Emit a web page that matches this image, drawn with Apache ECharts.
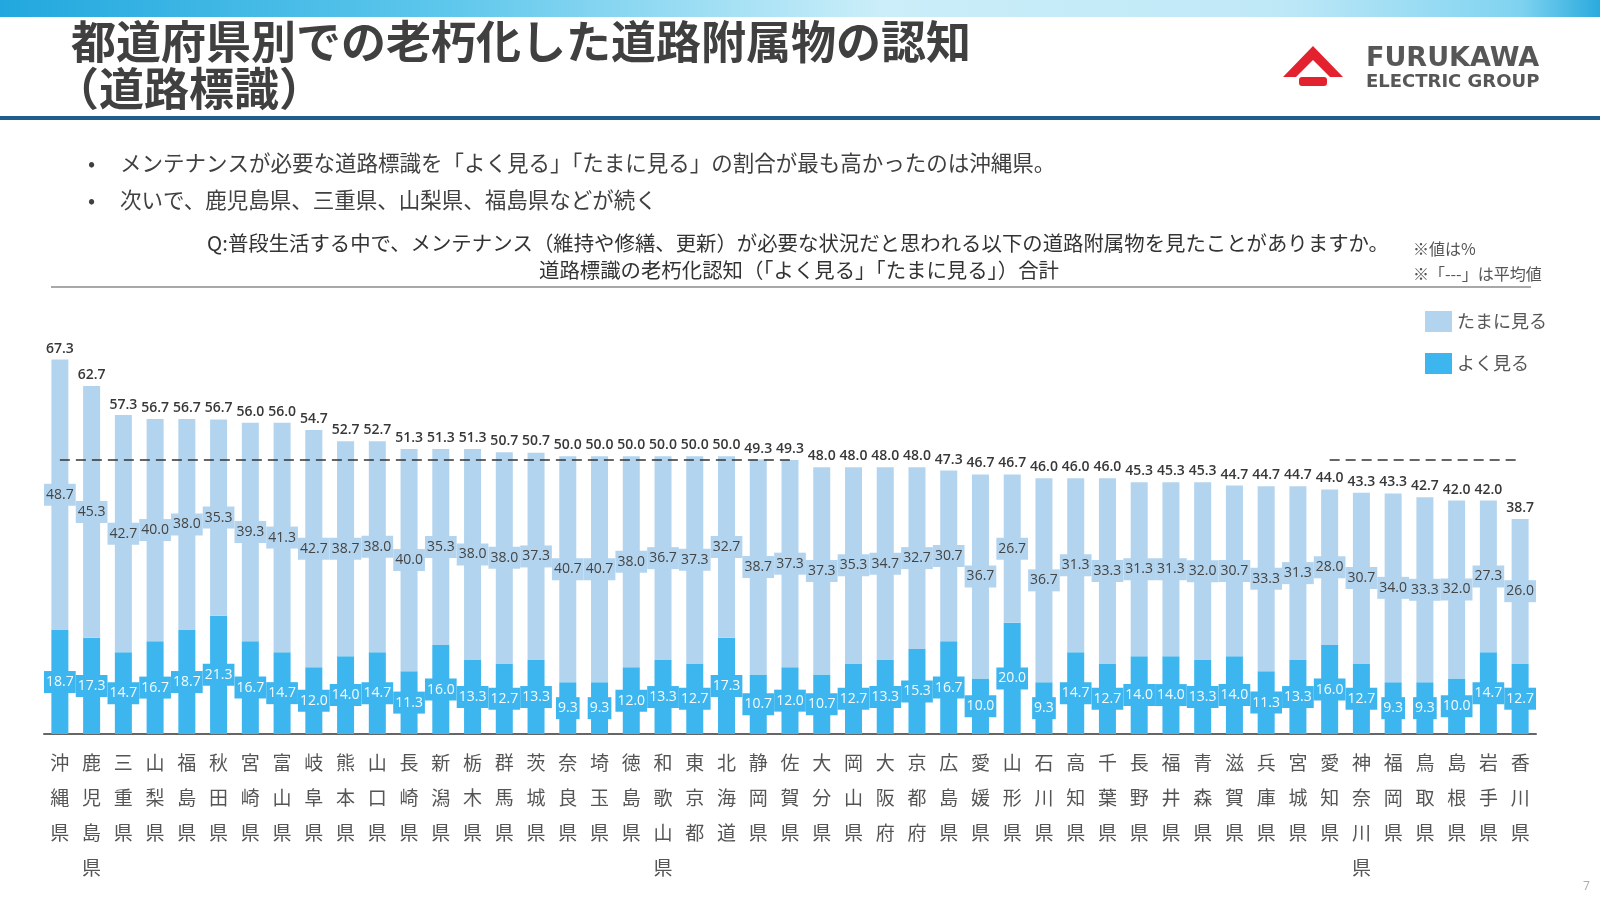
<!DOCTYPE html>
<html lang="ja">
<head>
<meta charset="utf-8">
<title>都道府県別での老朽化した道路附属物の認知（道路標識）</title>
<script src="https://cdn.jsdelivr.net/npm/echarts@6.0.0/dist/echarts.min.js"></script>
<style>
  html, body { margin: 0; padding: 0; background: #fff; }
  #chart { width: 1600px; height: 900px; }
</style>
</head>
<body>
<div id="chart"></div>
<script>
// ==========================
// データ
// ==========================
var prefectures = ['沖縄県', '鹿児島県', '三重県', '山梨県', '福島県', '秋田県', '宮崎県', '富山県', '岐阜県', '熊本県',
    '山口県', '長崎県', '新潟県', '栃木県', '群馬県', '茨城県', '奈良県', '埼玉県', '徳島県', '和歌山県',
    '東京都', '北海道', '静岡県', '佐賀県', '大分県', '岡山県', '大阪府', '京都府', '広島県', '愛媛県',
    '山形県', '石川県', '高知県', '千葉県', '長野県', '福井県', '青森県', '滋賀県', '兵庫県', '宮城県',
    '愛知県', '神奈川県', '福岡県', '鳥取県', '島根県', '岩手県', '香川県'];

// よく見る
var oftenSee = [18.7, 17.3, 14.7, 16.7, 18.7, 21.3, 16.7, 14.7, 12.0, 14.0,
    14.7, 11.3, 16.0, 13.3, 12.7, 13.3, 9.3, 9.3, 12.0, 13.3,
    12.7, 17.3, 10.7, 12.0, 10.7, 12.7, 13.3, 15.3, 16.7, 10.0,
    20.0, 9.3, 14.7, 12.7, 14.0, 14.0, 13.3, 14.0, 11.3, 13.3,
    16.0, 12.7, 9.3, 9.3, 10.0, 14.7, 12.7];

// たまに見る
var sometimesSee = [48.7, 45.3, 42.7, 40.0, 38.0, 35.3, 39.3, 41.3, 42.7, 38.7,
    38.0, 40.0, 35.3, 38.0, 38.0, 37.3, 40.7, 40.7, 38.0, 36.7,
    37.3, 32.7, 38.7, 37.3, 37.3, 35.3, 34.7, 32.7, 30.7, 36.7,
    26.7, 36.7, 31.3, 33.3, 31.3, 31.3, 32.0, 30.7, 33.3, 31.3,
    28.0, 30.7, 34.0, 33.3, 32.0, 27.3, 26.0];

// 合計
var totals = [67.3, 62.7, 57.3, 56.7, 56.7, 56.7, 56.0, 56.0, 54.7, 52.7,
    52.7, 51.3, 51.3, 51.3, 50.7, 50.7, 50.0, 50.0, 50.0, 50.0,
    50.0, 50.0, 49.3, 49.3, 48.0, 48.0, 48.0, 48.0, 47.3, 46.7,
    46.7, 46.0, 46.0, 46.0, 45.3, 45.3, 45.3, 44.7, 44.7, 44.7,
    44.0, 43.3, 43.3, 42.7, 42.0, 42.0, 38.7];

// 平均値（点線）
var average = 49.4;

var seriesNames = ['よく見る', 'たまに見る'];

var cjk = '"Noto Sans CJK JP", "Noto Sans", sans-serif';
var num = '"Open Sans", "Noto Sans", sans-serif';
var colorOften = '#3db6ef';
var colorSometimes = '#b3d4ee';

var chart = echarts.init(document.getElementById('chart'), null, { renderer: 'canvas' });

function txt(text, x, y, size, opts) {
    opts = opts || {};
    return {
        type: 'text',
        x: x,
        y: y,
        style: {
            text: text,
            fontSize: size,
            fontFamily: opts.family || cjk,
            fontWeight: opts.weight || 'normal',
            fill: opts.color || '#404040',
            align: opts.align || 'left',
            textAlign: opts.align || 'left',
            verticalAlign: 'middle',
            textVerticalAlign: 'middle'
        }
    };
}

var option = {
    animation: false,
    backgroundColor: '#fff',
    graphic: [
        // 上部の帯
        {
            type: 'rect',
            shape: { x: 0, y: 0, width: 1600, height: 17 },
            style: {
                fill: new echarts.graphic.LinearGradient(0, 0, 1, 0, [
                    { offset: 0, color: '#22a8de' },
                    { offset: 0.28, color: '#5ec7ec' },
                    { offset: 0.55, color: '#cbeef9' },
                    { offset: 0.8, color: '#bfe8f7' },
                    { offset: 0.95, color: '#7fd3f0' },
                    { offset: 1, color: '#2aaade' }
                ])
            }
        },
        txt('都道府県別での老朽化した道路附属物の認知', 71, 42, 45, { weight: 'bold' }),
        txt('（道路標識）', 54, 89, 45, { weight: 'bold' }),
        {
            type: 'rect',
            shape: { x: 0, y: 116, width: 1600, height: 4 },
            style: { fill: '#1f5e8c' }
        },
        // ロゴ
        {
            type: 'polygon',
            shape: { points: [[1313, 46], [1343, 77], [1330, 77], [1313, 60], [1296, 77], [1283, 77]] },
            style: { fill: '#e3222f' }
        },
        {
            type: 'rect',
            shape: { x: 1299, y: 77, width: 28, height: 9, r: 3 },
            style: { fill: '#e3222f' }
        },
        txt('FURUKAWA', 1366, 59, 27, { weight: 'bold', family: '"DejaVu Sans", sans-serif', color: '#575757' }),
        txt('ELECTRIC GROUP', 1366, 82, 18, { weight: 'bold', family: '"DejaVu Sans", sans-serif', color: '#575757' }),
        // 箇条書き
        txt('•', 88, 163, 21),
        txt('メンテナンスが必要な道路標識を「よく見る」「たまに見る」の割合が最も高かったのは沖縄県。', 120, 163, 21.5),
        txt('•', 88, 200, 21),
        txt('次いで、鹿児島県、三重県、山梨県、福島県などが続く', 120, 200, 21.5),
        // 設問
        txt('Q:普段生活する中で、メンテナンス（維持や修繕、更新）が必要な状況だと思われる以下の道路附属物を見たことがありますか。', 798, 243, 20.4, { align: 'center', color: '#333' }),
        txt('道路標識の老朽化認知（「よく見る」「たまに見る」）合計', 799, 270, 20.4, { align: 'center', color: '#333' }),
        txt('※値は%', 1413, 249, 16, { color: '#555' }),
        txt('※「---」は平均値', 1413, 274, 16, { color: '#555' }),
        {
            type: 'rect',
            shape: { x: 51, y: 286, width: 1480, height: 2 },
            style: { fill: '#a8a8a8' }
        },
        txt('7', 1583, 887, 12, { color: '#aaa', family: num })
    ],
    legend: {
        data: ['たまに見る', 'よく見る'],
        orient: 'vertical',
        left: 1420,
        top: 306,
        icon: 'rect',
        itemWidth: 27,
        itemHeight: 21,
        itemGap: 21,
        selectedMode: false,
        textStyle: { fontFamily: cjk, fontSize: 18, color: '#555' }
    },
    grid: { left: 44, right: 64, top: 345, bottom: 166 },
    xAxis: {
        type: 'category',
        data: prefectures,
        axisLine: { lineStyle: { color: '#666', width: 2 } },
        axisTick: { show: false },
        axisLabel: {
            interval: 0,
            margin: 11,
            fontFamily: cjk,
            fontSize: 19,
            lineHeight: 35,
            color: '#555',
            formatter: function(v) { return v.split('').join('\n'); }
        }
    },
    yAxis: {
        type: 'value',
        min: 0,
        max: 70,
        show: false,
        splitLine: { show: false }
    },
    series: [
        {
            name: seriesNames[0],
            type: 'bar',
            stack: 'total',
            barWidth: 17,
            data: oftenSee,
            itemStyle: { color: colorOften },
            label: {
                show: true,
                position: 'inside',
                fontFamily: num,
                fontSize: 14,
                color: '#f4fbff',
                backgroundColor: colorOften,
                padding: [4, 2],
                formatter: function(p) { return p.value.toFixed(1); }
            }
        },
        {
            name: seriesNames[1],
            type: 'bar',
            stack: 'total',
            barWidth: 17,
            data: sometimesSee,
            itemStyle: { color: colorSometimes },
            label: {
                show: true,
                position: 'inside',
                fontFamily: num,
                fontSize: 14,
                color: '#444',
                backgroundColor: colorSometimes,
                padding: [4, 2],
                formatter: function(p) { return p.value.toFixed(1); }
            }
        },
        {
            // 合計ラベル用（透明）
            name: '合計',
            type: 'bar',
            barWidth: 17,
            barGap: '-100%',
            data: totals,
            itemStyle: { color: 'rgba(0,0,0,0)' },
            label: {
                show: true,
                position: 'top',
                distance: 4,
                fontFamily: num,
                fontSize: 14,
                fontWeight: 600,
                color: '#383838',
                formatter: function(p) { return p.value.toFixed(1); }
            },
            markLine: {
                silent: true,
                symbol: 'none',
                label: { show: false },
                lineStyle: { color: '#333', type: [10, 6], width: 1.5 },
                data: [
                    [{ coord: [prefectures[0], average] }, { coord: [prefectures[23], average] }],
                    [{ coord: [prefectures[40], average] }, { coord: [prefectures[46], average] }]
                ]
            }
        }
    ]
};

chart.setOption(option);
</script>
</body>
</html>
